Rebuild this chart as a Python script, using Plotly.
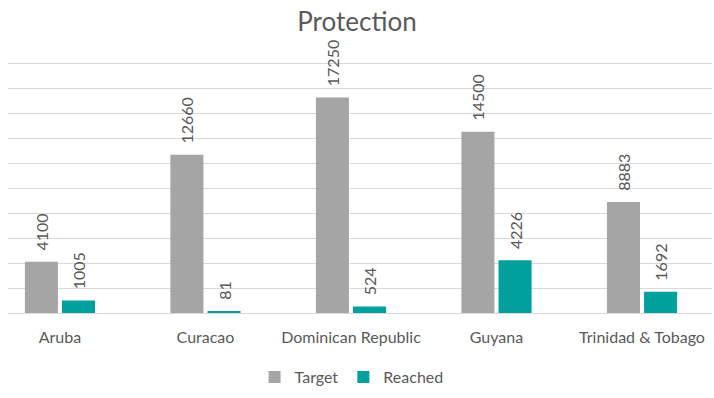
import plotly.graph_objects as go

# Protection programme: targets vs. people reached, by country
countries = ["Aruba", "Curacao", "Dominican Republic", "Guyana", "Trinidad & Tobago"]
target = [4100, 12660, 17250, 14500, 8883]
reached = [1005, 81, 524, 4226, 1692]

GRAY = "#A5A5A5"
TEAL = "#00A09D"
TEXT = "#595959"
FONT = "Lato"

fig = go.Figure()
for name, vals, color in [("Target", target, GRAY), ("Reached", reached, TEAL)]:
    fig.add_trace(go.Bar(
        name=name, x=countries, y=vals,
        marker=dict(color=color, line=dict(width=0)),
        texttemplate="\u00a0\u00a0%{y:d}", textposition="outside",
        textangle=-90, cliponaxis=False, constraintext="none",
        textfont=dict(family=FONT, size=16, color=TEXT),
    ))

fig.update_layout(
    width=714, height=398,
    margin=dict(l=8, r=2, t=61, b=85),
    paper_bgcolor="white", plot_bgcolor="white",
    barmode="group", bargap=0.49, bargroupgap=0.11,
    title=dict(text="Protection", x=0.5, xanchor="center", y=1 - 22 / 398, yanchor="middle",
               font=dict(family=FONT, size=26, color=TEXT)),
    font=dict(family=FONT, color=TEXT),
    showlegend=True,
    legend=dict(orientation="h", x=0.488, xanchor="center", y=-0.254, yanchor="middle",
                font=dict(family=FONT, size=16, color=TEXT), itemwidth=30,
                traceorder="normal"),
    xaxis=dict(type="category", range=[-0.357, 4.481], showgrid=False, showline=False,
               ticks="outside", ticklen=10, tickcolor="rgba(0,0,0,0)",
               tickfont=dict(family=FONT, size=16, color=TEXT)),
    yaxis=dict(range=[0, 20160], tickvals=list(range(0, 20001, 2000)), showticklabels=False,
               showgrid=True, gridcolor="#D9D9D9", gridwidth=1, zeroline=True,
               zerolinecolor="#D9D9D9", zerolinewidth=1, showline=False),
)

fig.write_html("out.html")
